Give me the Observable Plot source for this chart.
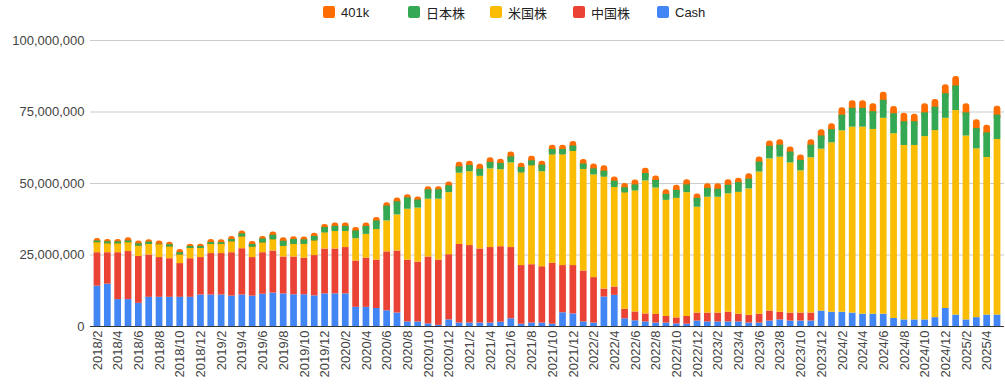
<!DOCTYPE html>
<html>
<head>
<meta charset="utf-8">
<script src="https://cdn.jsdelivr.net/npm/d3@7"></script>
<script src="https://cdn.jsdelivr.net/npm/@observablehq/plot@0.6"></script>
<style>
  html, body { margin: 0; padding: 0; background: #fff; }
  body { width: 1005px; height: 390px; overflow: hidden; font-family: "Liberation Sans", Arial, "Noto Sans CJK JP", sans-serif; }
  #legend { position: relative; height: 26px; width: 1005px; }
  .item { position: absolute; top: 5px; height: 14px; display: flex; align-items: center; font-size: 13px; color: #222; white-space: nowrap; }
  .sw { width: 12px; height: 12px; border-radius: 2px; margin-right: 6px; }
</style>
</head>
<body>
<div id="legend"></div>
<div id="chart"></div>
<script>
const months = [
  "2018/2","2018/3","2018/4","2018/5","2018/6","2018/7","2018/8","2018/9","2018/10","2018/11","2018/12",
  "2019/1","2019/2","2019/3","2019/4","2019/5","2019/6","2019/7","2019/8","2019/9","2019/10","2019/11","2019/12",
  "2020/1","2020/2","2020/3","2020/4","2020/5","2020/6","2020/7","2020/8","2020/9","2020/10","2020/11","2020/12",
  "2021/1","2021/2","2021/3","2021/4","2021/5","2021/6","2021/7","2021/8","2021/9","2021/10","2021/11","2021/12",
  "2022/1","2022/2","2022/3","2022/4","2022/5","2022/6","2022/7","2022/8","2022/9","2022/10","2022/11","2022/12",
  "2023/1","2023/2","2023/3","2023/4","2023/5","2023/6","2023/7","2023/8","2023/9","2023/10","2023/11","2023/12",
  "2024/1","2024/2","2024/3","2024/4","2024/5","2024/6","2024/7","2024/8","2024/9","2024/10","2024/11","2024/12",
  "2025/1","2025/2","2025/3","2025/4","2025/5"
];
// values in millions of yen
const cash = [14.1,14.8,9.4,9.4,8.1,10.2,10.2,10.2,10.2,10.2,11.0,
  11.0,11.0,10.6,11.0,10.6,11.3,11.7,11.4,11.1,11.1,10.7,11.4,
  11.4,11.4,6.7,6.7,6.3,5.5,4.7,1.6,1.6,0.9,0.4,2.3,
  1.2,1.2,1.2,1.2,1.5,2.7,0.8,1.2,1.2,0.8,4.8,4.4,
  1.6,1.2,10.3,10.9,2.7,2.0,1.6,1.2,1.2,0.9,0.8,1.9,
  1.6,1.6,1.6,1.6,1.2,1.2,1.9,2.3,1.9,1.9,1.9,5.4,
  5.0,5.0,4.7,4.3,4.3,4.3,2.8,2.3,2.3,2.3,3.1,6.3,
  4.0,2.3,3.1,4.0,4.0];
const china = [11.7,11.0,16.4,16.8,16.4,14.8,13.9,13.5,11.8,13.5,13.1,
  14.5,14.5,15.2,16.2,13.5,14.5,14.7,12.9,13.2,12.8,14.1,15.7,
  15.7,16.2,16.2,17.2,16.9,20.6,21.7,21.6,20.9,23.4,22.8,22.8,
  27.5,27.1,25.9,26.4,26.4,24.9,20.5,20.4,19.7,21.3,16.5,16.9,
  17.8,15.9,2.8,2.9,3.3,3.1,2.8,3.0,2.3,2.1,2.7,2.8,
  3.1,3.1,3.4,2.7,2.7,3.1,3.5,2.7,2.8,2.8,2.8,0,
  0,0,0,0,0,0,0,0,0,0,0,0,
  0,0,0,0,0];
const us = [3.5,3.1,3.1,3.1,3.6,3.7,4.5,4.1,3.0,3.6,3.2,
  3.2,3.2,3.8,4.1,3.6,3.4,3.9,3.7,4.4,4.8,5.1,5.6,
  6.1,5.6,7.8,8.3,10.7,10.8,12.6,17.8,18.9,20.2,21.3,21.7,
  24.9,25.8,25.4,27.5,26.9,29.6,32.4,34.6,33.2,37.9,38.7,39.9,
  35.5,35.9,39.1,34.8,40.7,42.3,46.5,44.2,40.6,41.8,43.3,37.0,
  40.5,40.5,41.4,42.6,44.2,49.7,53.2,54.2,52.5,49.7,54.3,56.6,
  59.2,63.4,65.0,65.4,64.6,68.5,64.6,61.0,61.0,64.1,65.4,66.5,
  71.5,64.3,59.0,55.1,61.4];
const jp = [0.6,0.7,0.7,0.6,0.8,0.8,0.2,0.8,0.8,0.7,0.7,
  0.7,0.6,0.8,1.1,1.0,1.4,1.6,1.8,1.7,1.6,1.6,1.9,
  1.8,1.8,2.7,2.8,3.0,5.2,4.6,4.0,2.8,3.3,3.3,2.4,
  2.2,2.2,2.5,2.3,2.2,2.1,1.9,1.7,2.3,1.9,1.9,1.9,
  1.9,2.1,2.1,2.2,1.8,2.1,2.6,2.7,2.1,2.8,2.7,3.1,
  3.1,2.8,3.0,3.4,3.4,3.5,4.4,4.2,3.8,3.7,4.4,4.6,
  4.6,5.5,6.6,6.6,6.2,6.3,7.0,8.3,8.3,8.3,8.2,8.6,
  8.6,8.1,7.1,8.6,8.5];
const k401 = [0.9,0.8,0.8,1.1,1.0,0.8,1.1,0.9,1.1,0.8,0.8,
  1.0,1.0,1.1,1.0,1.0,0.9,1.1,1.2,1.0,1.0,1.1,1.1,
  1.2,1.2,1.2,1.2,1.2,1.2,1.3,1.1,1.1,1.1,1.1,1.3,
  1.6,1.5,1.7,1.6,1.5,1.7,1.5,1.6,1.4,1.5,1.5,1.6,
  1.6,1.7,1.9,1.5,1.5,1.7,1.8,1.5,1.6,1.8,1.8,1.5,
  1.6,1.9,1.9,1.5,1.9,1.8,1.9,1.9,1.8,1.9,1.9,2.2,
  2.1,2.6,2.6,2.6,2.8,2.8,2.5,3.0,2.6,3.2,2.7,3.1,
  3.3,3.2,3.1,2.7,3.1];

const seriesNames = ["Cash", "中国株", "米国株", "日本株", "401k"];
const seriesColors = ["#4285f4", "#ea4335", "#fbbc04", "#34a853", "#ff6d01"];
const yTicks = [0, 25000000, 50000000, 75000000, 100000000];
const xTicks = months.filter((_, i) => i % 2 === 0);

const M = 1e6;
const segs = [];
const caps = [];
months.forEach((m, i) => {
  let base = 0;
  [cash, china, us, jp, k401].forEach((arr, j) => {
    const v = arr[i] * M;
    if (j < 4) {
      if (v > 0) segs.push({month: m, series: seriesNames[j], y1: base, y2: base + v});
    } else {
      caps.push({month: m, series: seriesNames[j], y1: Math.max(0, base - 2 * M), y2: base + v});
    }
    base += v;
  });
});

// legend (reversed order, as in the reference)
const legendPos = [323, 408, 490, 573, 657];
const legend = document.getElementById("legend");
[4, 3, 2, 1, 0].forEach((j, k) => {
  const it = document.createElement("div");
  it.className = "item";
  it.style.left = legendPos[k] + "px";
  const sw = document.createElement("div");
  sw.className = "sw";
  sw.style.background = seriesColors[j];
  it.appendChild(sw);
  it.appendChild(document.createTextNode(seriesNames[j]));
  legend.appendChild(it);
});

const chart = Plot.plot({
  width: 1005,
  height: 364,
  marginLeft: 90,
  marginRight: 1,
  marginTop: 14,
  marginBottom: 64,
  style: {fontFamily: '"Liberation Sans", Arial, sans-serif', fontSize: "13px", color: "#444", background: "#fff"},
  x: {type: "band", domain: months, padding: 0.35},
  y: {domain: [0, 100000000]},
  color: {domain: seriesNames, range: seriesColors},
  marks: [
    Plot.ruleY(yTicks.slice(1), {stroke: "#cccccc", strokeWidth: 1}),
    Plot.barY(caps, {x: "month", y1: "y1", y2: "y2", fill: "series", rx: 3, ry: 3}),
    Plot.barY(segs, {x: "month", y1: "y1", y2: "y2", fill: "series"}),
    Plot.ruleY([0], {stroke: "#333", strokeWidth: 1}),
    Plot.axisY({ticks: yTicks, tickFormat: d3.format(","), tickSize: 0, tickPadding: 6, label: null, fontSize: 13}),
    Plot.axisX({ticks: xTicks, tickRotate: -90, tickSize: 0, tickPadding: 4, label: null, fontSize: 13})
  ]
});
document.getElementById("chart").appendChild(chart);
</script>
</body>
</html>
